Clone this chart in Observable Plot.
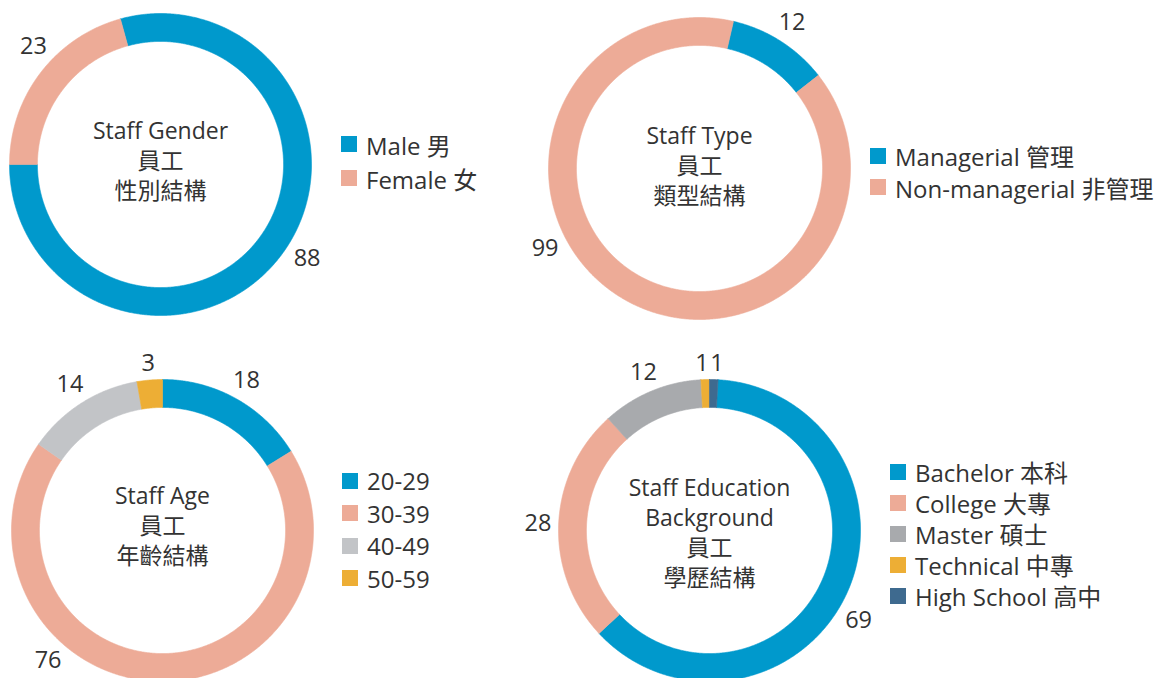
<!DOCTYPE html>
<html>
<head>
<meta charset="utf-8">
<script src="https://cdn.jsdelivr.net/npm/d3@7"></script>
<script src="https://cdn.jsdelivr.net/npm/@observablehq/plot@0.6"></script>
<style>
html, body { margin: 0; padding: 0; overflow: hidden; background: #fff; }
#root { position: relative; width: 1154px; height: 678px; overflow: hidden; background: #fff;
  font-family: "Open Sans", "Noto Sans CJK TC", sans-serif; color: #333; }
.chart { position: absolute; }
.legend { position: absolute; font-size: 24px; color: #333; }
.legend .row { display: flex; align-items: center; white-space: nowrap; }
.legend .sw { width: 16px; height: 16px; margin-right: 9px; flex: none; }
</style>
</head>
<body>
<div id="root"></div>
<script>
// ---------- data ----------
const genderTitle = "Staff Gender\n員工\n性別結構";
const genderCategories = ["Male 男", "Female 女"];
const genderValues = [88, 23];

const typeTitle = "Staff Type\n員工\n類型結構";
const typeCategories = ["Managerial 管理", "Non-managerial 非管理"];
const typeValues = [12, 99];

const ageTitle = "Staff Age\n員工\n年齡結構";
const ageCategories = ["20-29", "30-39", "40-49", "50-59"];
const ageValues = [18, 76, 14, 3];

const eduTitle = "Staff Education\nBackground\n員工\n學歷結構";
const eduCategories = ["Bachelor 本科", "College 大專", "Master 碩士", "Technical 中專", "High School 高中"];
const eduValues = [69, 28, 12, 1, 1];

// ---------- styles ----------
const BLUE = "#0099cc", SALMON = "#edab97", LIGHTGRAY = "#c2c4c7", GRAY = "#a8aaad", YELLOW = "#edae35", NAVY = "#3e6a8f";
const genderColors = [BLUE, SALMON];
const typeColors = [BLUE, SALMON];
const ageColors = [BLUE, SALMON, LIGHTGRAY, YELLOW];
const eduColors = [BLUE, SALMON, GRAY, YELLOW, NAVY];

const FONT = `"Open Sans", "Noto Sans CJK TC", sans-serif`;
const TEXT = "#333";
const R = 151;          // outer radius, px
const INNER = 0.815;    // inner/outer radius ratio
const SIZE = 400;       // svg size per donut

const charts = [
  {title: genderTitle, categories: genderCategories, values: genderValues, colors: genderColors,
   cx: 160.3, cy: 164.2, start: -15.4, titleDy: -5, labelAngle: {0: 122.6, 1: 313},
   legend: {x: 341, y: 144, step: 34}},
  {title: typeTitle, categories: typeCategories, values: typeValues, colors: typeColors,
   cx: 699, cy: 167.5, start: 13, titleDy: -4, labelAngle: {1: 242.6},
   legend: {x: 870, y: 155.5, step: 31.5}},
  {title: ageTitle, categories: ageCategories, values: ageValues, colors: ageColors,
   cx: 161.7, cy: 530, start: 0, titleDy: -6, labelAngle: {1: 221.3},
   legend: {x: 342, y: 480.5, step: 32.5}},
  {title: eduTitle, categories: eduCategories, values: eduValues, colors: eduColors,
   cx: 708.5, cy: 530, start: 3.24, titleDy: 1, labelAngle: {0: 121, 3: 357.4, 4: 2.6},
   legend: {x: 890, y: 471.5, step: 31}}
];

const root = document.getElementById("root");

function donut(c) {
  const s = c.start * Math.PI / 180;
  const arcs = d3.pie().sort(null).startAngle(s).endAngle(s + 2 * Math.PI)(c.values);
  const rows = [];
  const labels = [];
  arcs.forEach((a, i) => {
    const key = c.categories[i];
    const n = Math.max(4, Math.ceil((a.endAngle - a.startAngle) / (0.4 * Math.PI / 180)));
    const pts = [];
    for (let k = 0; k <= n; k++) {
      const t = a.startAngle + (a.endAngle - a.startAngle) * k / n;
      pts.push([Math.sin(t), -Math.cos(t)]);
    }
    for (let k = n; k >= 0; k--) {
      const t = a.startAngle + (a.endAngle - a.startAngle) * k / n;
      pts.push([INNER * Math.sin(t), -INNER * Math.cos(t)]);
    }
    pts.push(pts[0]);
    pts.forEach(([x, y]) => rows.push({key, x, y}));
    // label outside the ring
    const ang = c.labelAngle[i] !== undefined ? c.labelAngle[i] * Math.PI / 180 : (a.startAngle + a.endAngle) / 2;
    const txt = String(c.values[i]);
    const hw = 6.7 * txt.length, hh = 8.7;
    const ext = Math.abs(Math.sin(ang)) * hw + Math.abs(Math.cos(ang)) * hh;
    const dist = (R + 7 + ext) / R;
    labels.push({text: txt, x: dist * Math.sin(ang), y: -dist * Math.cos(ang)});
  });

  const plot = Plot.plot({
    width: SIZE, height: SIZE, margin: 0,
    x: {domain: [-1, 1], range: [SIZE / 2 - R, SIZE / 2 + R], axis: null},
    y: {domain: [-1, 1], range: [SIZE / 2 - R, SIZE / 2 + R], axis: null},
    color: {domain: c.categories, range: c.colors},
    style: {background: "transparent", overflow: "visible"},
    marks: [
      Plot.line(rows, {x: "x", y: "y", z: "key", fill: "key", stroke: "key", strokeWidth: 0.6, curve: "linear"}),
      Plot.text(labels, {x: "x", y: "y", text: "text", fontSize: 23.5, fill: TEXT, fontFamily: FONT}),
      Plot.text([{t: c.title, x: 0, y: 0}], {x: "x", y: "y", text: "t", fontSize: 23, lineHeight: 1.3,
        dy: c.titleDy, fill: TEXT, fontFamily: FONT})
    ]
  });
  const wrap = document.createElement("div");
  wrap.className = "chart";
  wrap.style.left = (c.cx - SIZE / 2) + "px";
  wrap.style.top = (c.cy - SIZE / 2) + "px";
  wrap.appendChild(plot);
  root.appendChild(wrap);

  // legend
  const lg = document.createElement("div");
  lg.className = "legend";
  lg.style.left = c.legend.x + "px";
  lg.style.top = (c.legend.y - c.legend.step / 2) + "px";
  const color = plot.scale("color");
  c.categories.forEach((cat) => {
    const row = document.createElement("div");
    row.className = "row";
    row.style.height = c.legend.step + "px";
    const sw = document.createElement("span");
    sw.className = "sw";
    sw.style.background = color.apply(cat);
    const lab = document.createElement("span");
    lab.textContent = cat;
    row.appendChild(sw);
    row.appendChild(lab);
    lg.appendChild(row);
  });
  root.appendChild(lg);
}

charts.forEach(donut);
</script>
</body>
</html>
